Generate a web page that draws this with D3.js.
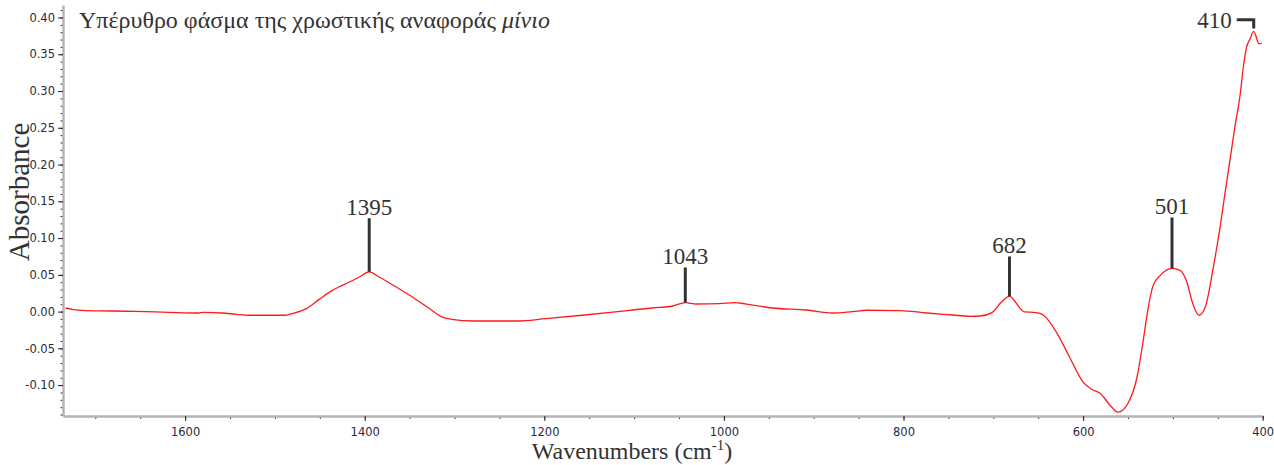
<!DOCTYPE html>
<html>
<head>
<meta charset="utf-8">
<script src="https://cdn.jsdelivr.net/npm/d3@7/dist/d3.min.js"></script>
<style>
  html, body { margin: 0; padding: 0; background: #fff; }
  svg { display: block; }
</style>
</head>
<body>
<svg id="chart" width="1274" height="465"></svg>
<script>
// FTIR spectrum of the minium (red lead) reference pigment
const wavenumbers = [
  1733, 1726, 1711, 1655, 1618, 1585, 1580, 1559, 1543, 1529, 1488, 1481,
  1465, 1451, 1436, 1429, 1417, 1406, 1395, 1384, 1365, 1347, 1328, 1314,
  1303, 1280, 1231, 1198, 1158, 1105, 1080, 1057, 1043, 1031, 1005, 988,
  975, 946, 908, 879, 857, 841, 804, 774, 745, 726, 715, 701,
  691, 682, 674, 670, 665, 655, 648, 644, 629, 615, 600, 590,
  581, 570, 561, 550, 540, 533, 528, 522, 514, 501, 492, 484,
  478, 471, 464, 455, 448, 442, 436.5, 431, 425, 421.6, 418, 414,
  410, 404, 401
];
const absorbance = [
  0.0049, 0.0031, 0.0014, 0.0004, -0.0010, -0.0019, -0.0010, -0.0019, -0.0037, -0.0050, -0.0050, -0.0027,
  0.0041, 0.0163, 0.0289, 0.0334, 0.0402, 0.0470, 0.0540, 0.0470, 0.0334, 0.0198, 0.0041, -0.0073,
  -0.0105, -0.0128, -0.0128, -0.0095, -0.0050, 0.0018, 0.0049, 0.0076, 0.0122, 0.0103, 0.0109, 0.0122,
  0.0103, 0.0049, 0.0022, -0.0019, 0.0000, 0.0018, 0.0014, -0.0019, -0.0046, -0.0064, -0.0060, -0.0010,
  0.0130, 0.0208, 0.0109, 0.0040, -0.0005, -0.0010, -0.0025, -0.0050, -0.0295, -0.0620, -0.0960, -0.1060,
  -0.1110, -0.1273, -0.1368, -0.1246, -0.0893, -0.0390, 0.0018, 0.0357, 0.0493, 0.0588, 0.0561, 0.0385,
  0.0113, -0.0050, 0.0058, 0.0602, 0.1105, 0.1607, 0.2056, 0.2508, 0.2962, 0.3323, 0.3595, 0.3710,
  0.3810, 0.3640, 0.3650
];

// Annotated band positions and the absorbance level each marker reaches up to
const peakWavenumbers = [1395, 1043, 682, 501];
const peakLabels = ["1395", "1043", "682", "501"];
const peakMarkerTops = [0.127, 0.060, 0.075, 0.128];
const topPeakWavenumber = 410;
const topPeakLabel = "410";
const topPeakMarkerLevel = 0.397;

const xTickValues = [1600, 1400, 1200, 1000, 800, 600, 400];
const xMinorTickValues = d3.range(1700, 399, -50);
const yTickValues = [-0.10, -0.05, 0.00, 0.05, 0.10, 0.15, 0.20, 0.25, 0.30, 0.35, 0.40];
const yMinorTickValues = d3.range(-14, 42).map(d => d / 100);

const titleText = "Υπέρυθρο φάσμα της χρωστικής αναφοράς ";
const titleItalic = "μίνιο";
const xAxisTitle = "Wavenumbers (cm";
const xAxisTitleSup = "-1";
const yAxisTitle = "Absorbance";

const svg = d3.select("#chart");
const plotLeft = 63, plotRight = 1262.7, plotTop = 5, plotBottom = 416;

const x = d3.scaleLinear().domain([1736, 400]).range([plotLeft, plotRight]);
const y = d3.scaleLinear().domain([-0.142, 0.417]).range([plotBottom, plotTop]);

const fmt = d => d3.format(".2f")(d).replace("−", "-");

// Minor ticks
svg.append("g")
  .attr("transform", `translate(${plotLeft},0)`)
  .call(d3.axisLeft(y).tickValues(yMinorTickValues).tickSize(2.5).tickFormat(""))
  .call(g => g.select(".domain").remove())
  .call(g => g.selectAll("line").attr("stroke", "#333"));

svg.append("g")
  .attr("transform", `translate(0,${plotBottom})`)
  .call(d3.axisBottom(x).tickValues(xMinorTickValues).tickSize(3).tickFormat(""))
  .call(g => g.select(".domain").remove())
  .call(g => g.selectAll("line").attr("stroke", "#333"));

// Major axes
const yAxis = svg.append("g")
  .attr("transform", `translate(${plotLeft},0)`)
  .call(d3.axisLeft(y).tickValues(yTickValues).tickSize(5).tickPadding(3).tickFormat(fmt).tickSizeOuter(0));
const xAxis = svg.append("g")
  .attr("transform", `translate(0,${plotBottom})`)
  .call(d3.axisBottom(x).tickValues(xTickValues).tickSize(5).tickPadding(7).tickFormat(d3.format("d")).tickSizeOuter(0));

[yAxis, xAxis].forEach(g => {
  g.select(".domain").attr("stroke", "#b4b4b4").attr("stroke-width", 2.5);
  g.selectAll(".tick line").attr("stroke", "#222");
  g.selectAll(".tick text")
    .attr("font-family", "'DejaVu Sans', sans-serif")
    .attr("font-size", 11.5)
    .attr("fill", "#2a2a3a");
});

// Spectrum trace
const points = wavenumbers.map((w, i) => [w, absorbance[i]]);
const line = d3.line()
  .x(d => x(d[0]))
  .y(d => y(d[1]))
  .curve(d3.curveMonotoneX);

svg.append("path")
  .datum(points)
  .attr("fill", "none")
  .attr("stroke", "#ff1a1a")
  .attr("stroke-width", 1.3)
  .attr("d", line);

// Absorbance of the trace at a given wavenumber
function traceAt(w) {
  for (let i = 0; i < wavenumbers.length - 1; i++) {
    const a = wavenumbers[i], b = wavenumbers[i + 1];
    if (w <= a && w >= b) {
      const t = (a - w) / (a - b);
      return absorbance[i] + t * (absorbance[i + 1] - absorbance[i]);
    }
  }
  return 0;
}

// Band markers
const serif = "'Liberation Serif', 'Times New Roman', serif";
const ink = "#333";

peakWavenumbers.forEach((w, i) => {
  svg.append("line")
    .attr("x1", x(w)).attr("x2", x(w))
    .attr("y1", y(traceAt(w)))
    .attr("y2", y(peakMarkerTops[i]))
    .attr("stroke", ink)
    .attr("stroke-width", 3);
  svg.append("text")
    .attr("x", x(w))
    .attr("y", y(peakMarkerTops[i]) - 3)
    .attr("text-anchor", "middle")
    .attr("font-family", serif)
    .attr("font-size", 23)
    .attr("fill", ink)
    .text(peakLabels[i]);
});

// Bracket marker for the strongest band
{
  const px = x(topPeakWavenumber);
  const py = y(topPeakMarkerLevel);
  svg.append("path")
    .attr("d", `M${px - 17},${py}H${px}V${y(traceAt(topPeakWavenumber)) - 3}`)
    .attr("fill", "none")
    .attr("stroke", ink)
    .attr("stroke-width", 3);
  svg.append("text")
    .attr("x", px - 22)
    .attr("y", py + 8)
    .attr("text-anchor", "end")
    .attr("font-family", serif)
    .attr("font-size", 23)
    .attr("fill", ink)
    .text(topPeakLabel);
}

// Title
const title = svg.append("text")
  .attr("x", 79)
  .attr("y", 28)
  .attr("font-family", serif)
  .attr("font-size", 24)
  .attr("fill", ink);
title.append("tspan").text(titleText);
title.append("tspan").attr("font-style", "italic").text(titleItalic);

// Axis titles
const xt = svg.append("text")
  .attr("x", 632)
  .attr("y", 459)
  .attr("text-anchor", "middle")
  .attr("font-family", serif)
  .attr("font-size", 24)
  .attr("fill", ink);
xt.append("tspan").text(xAxisTitle);
xt.append("tspan").attr("font-size", 15).attr("dy", -9).text(xAxisTitleSup);
xt.append("tspan").attr("dy", 9).text(")");

svg.append("text")
  .attr("transform", "translate(29,192) rotate(-90)")
  .attr("text-anchor", "middle")
  .attr("font-family", serif)
  .attr("font-size", 29)
  .attr("fill", ink)
  .text(yAxisTitle);
</script>
</body>
</html>
